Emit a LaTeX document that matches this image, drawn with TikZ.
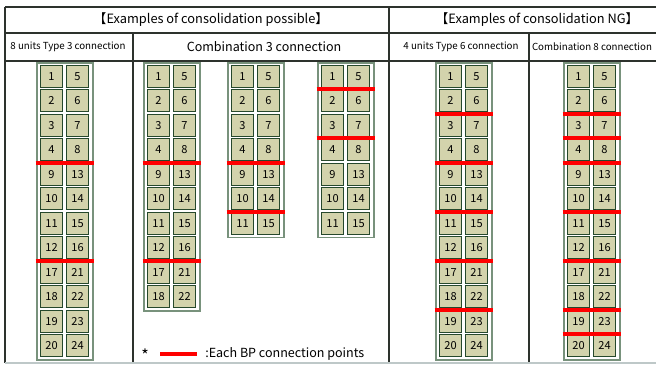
\documentclass[tikz,border=0pt]{standalone}
\usepackage{fontspec}
\setmainfont{Noto Sans CJK JP}
\usetikzlibrary{calc}
\definecolor{cellfill}{RGB}{211,211,172}
\definecolor{celldraw}{RGB}{38,72,44}
\definecolor{framecol}{RGB}{120,146,124}
\definecolor{gridcol}{RGB}{45,50,45}
\definecolor{gridlight}{RGB}{190,200,200}
\definecolor{bpred}{RGB}{255,0,0}
\tikzset{
  cell/.style={draw=celldraw, fill=cellfill, line width=0.7pt, minimum width=16.6pt,
    minimum height=16.4pt, inner sep=0pt, font=\fontsize{8.3}{9}\selectfont},
  frame/.style={draw=framecol, line width=1.3pt},
  bp/.style={draw=bpred, line width=3pt},
  grid/.style={draw=gridcol, line width=0.8pt},
  gridb/.style={draw=gridlight, line width=0.9pt},
  hdr/.style={font=\fontsize{9.6}{11}\selectfont, inner sep=0pt},
  subhdr/.style={font=\fontsize{7.3}{9}\selectfont, inner sep=0pt},
  subhdrbig/.style={font=\fontsize{9.4}{11}\selectfont, inner sep=0pt},
  legend/.style={font=\fontsize{9.4}{11}\selectfont, inner sep=0pt, anchor=west},
}
\newcommand\mystack[3]{%
  \draw[frame] (#2,63) rectangle (#2+56,{65+24.5*#3+1});
  \foreach \i in {1,...,#3}{%
    \pgfmathtruncatemacro\lft{mod(\i-1,4)+1+8*floor((\i-1)/4)}%
    \pgfmathtruncatemacro\rgt{\lft+4}%
    \node[cell] (#1-\i-L) at (#2+14.5,{65+24.5*(\i-1)+11.25}) {\lft};
    \node[cell] (#1-\i-R) at (#2+40.5,{65+24.5*(\i-1)+11.25}) {\rgt};
  }%
}
\newcommand\bpline[2]{%
  \draw[bp] ([xshift=-3.2pt,yshift=-1.1pt]#1-#2-L.south west) -- ([xshift=4pt,yshift=-1.1pt]#1-#2-R.south east);
}
\begin{document}
\begin{tikzpicture}[x=0.75pt,y=-0.75pt]
\useasboundingbox (0,0) rectangle (656,365);
% table grid
\coordinate (tl) at (5,7);
\coordinate (tr) at (656,7);
\coordinate (bl) at (5,363);
\coordinate (br) at (656,363);
\draw[grid] (tl) -- (tr);
\draw[grid] (5,33) -- (656,33);
\draw[grid] (5,61) -- (656,61);
\draw[grid] (tl) -- (bl);
\draw[grid] (133,33) -- (133,363);
\draw[grid] (389,7) -- (389,363);
\draw[grid] (529,33) -- (529,363);
\draw[gridb] (bl) -- (br);
% headers
\node[hdr] (h1) at (211,20) {【Examples of consolidation possible】};
\node[hdr] (h2) at (537,20) {【Examples of consolidation NG】};
\node[subhdr] (s1) at (68,47) {8 units Type 3 connection};
\node[subhdrbig] (s2) at (264,47) {Combination 3 connection};
\node[subhdr] (s3) at (461,47) {4 units Type 6 connection};
\node[subhdr] (s4) at (592,47) {Combination 8 connection};
% stacks
\mystack{c}{37}{12}
\bpline{c}{4}\bpline{c}{8}
\mystack{a}{144}{10}
\bpline{a}{4}\bpline{a}{8}
\mystack{b}{228}{7}
\bpline{b}{4}\bpline{b}{6}
\mystack{d}{318}{7}
\bpline{d}{1}\bpline{d}{3}
\mystack{e}{436}{12}
\bpline{e}{2}\bpline{e}{4}\bpline{e}{6}\bpline{e}{8}\bpline{e}{10}
\mystack{f}{564}{12}
\bpline{f}{2}\bpline{f}{3}\bpline{f}{4}\bpline{f}{6}\bpline{f}{8}\bpline{f}{10}\bpline{f}{11}
% legend
\node[legend, font=\fontsize{12}{12}\selectfont] (star) at (141,355) {*};
\coordinate (la) at (160,354);
\coordinate (lb) at (197,354);
\draw[bp] (la) -- (lb);
\node[legend] (ltext) at (205,354) {:Each BP connection points};
\end{tikzpicture}
\end{document}
